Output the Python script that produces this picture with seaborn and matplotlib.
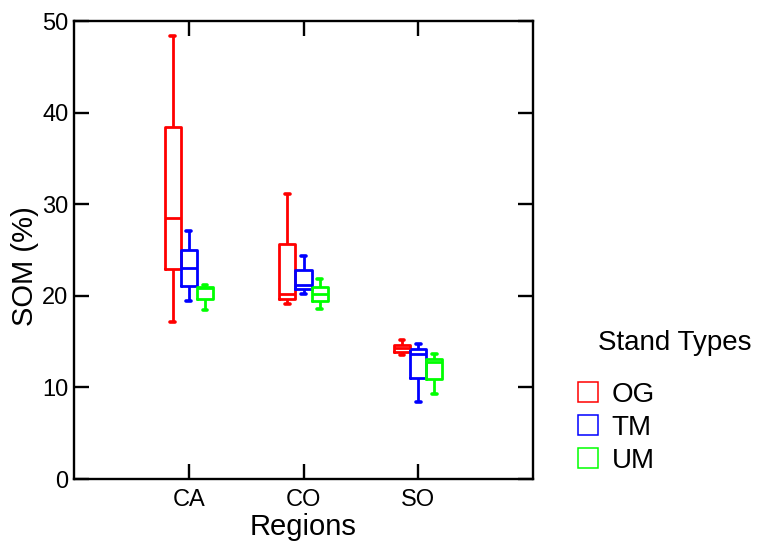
import numpy as np
import pandas as pd
import seaborn as sns
import matplotlib
matplotlib.use("Agg")
import matplotlib.pyplot as plt
from matplotlib.lines import Line2D

# ---- data (five-number summaries) ----
regions = ["CA", "CO", "SO"]
stand_types = ["OG", "TM", "UM"]
# each: [min, q1, median, q3, max]
CA_OG = [17.1, 22.9, 28.5, 38.4, 48.4]
CA_TM = [19.4, 21.1, 23.0, 25.0, 27.1]
CA_UM = [18.5, 19.7, 20.9, 21.0, 21.2]
CO_OG = [19.1, 19.65, 20.2, 25.7, 31.1]
CO_TM = [20.2, 20.7, 21.2, 22.8, 24.3]
CO_UM = [18.6, 19.4, 20.2, 21.0, 21.8]
SO_OG = [13.5, 13.9, 14.25, 14.6, 15.2]
SO_TM = [8.45, 11.0, 13.65, 14.15, 14.7]
SO_UM = [9.25, 10.9, 12.75, 13.15, 13.7]
yticks = [0, 10, 20, 30, 40, 50]
palette = {"OG": "#ff0000", "TM": "#0000ff", "UM": "#00ff00"}

groups = {
    ("CA", "OG"): CA_OG, ("CA", "TM"): CA_TM, ("CA", "UM"): CA_UM,
    ("CO", "OG"): CO_OG, ("CO", "TM"): CO_TM, ("CO", "UM"): CO_UM,
    ("SO", "OG"): SO_OG, ("SO", "TM"): SO_TM, ("SO", "UM"): SO_UM,
}
rows = []
for (r, s), vals in groups.items():
    for v in vals:
        rows.append({"Regions": r, "Stand Types": s, "SOM": v})
df = pd.DataFrame(rows)

sns.set_style("white")
plt.rcParams["font.family"] = ["Liberation Sans", "DejaVu Sans"]
plt.rcParams["text.color"] = "black"
plt.rcParams["axes.labelcolor"] = "black"

fig = plt.figure(figsize=(7.58, 5.44), dpi=100)
ax = fig.add_axes([74 / 758, 1 - 479 / 544, (533 - 74) / 758, (479 - 21) / 544])

sns.boxplot(data=df, x="Regions", y="SOM", hue="Stand Types",
            order=regions, hue_order=stand_types, palette=palette,
            fill=False, width=0.42, whis=(0, 100), linewidth=2.0,
            showfliers=False, legend=False, ax=ax)

# shorten whisker caps
for ln in ax.lines:
    xd = np.asarray(ln.get_xdata(), dtype=float)
    yd = np.asarray(ln.get_ydata(), dtype=float)
    if len(xd) == 2 and np.isclose(yd[0], yd[1]):
        w = abs(xd[1] - xd[0])
        if 0.05 < w < 0.1:
            c = xd.mean()
            ln.set_xdata([c - 0.02, c + 0.02])
            ln.set_solid_capstyle("round")
            ln.set_linewidth(2.6)

ax.set_xlim(-1, 3)
ax.set_ylim(0, 50)
ax.set_yticks(yticks)
ax.set_xticks(range(len(regions)))
ax.set_xticklabels(regions)

for sp in ax.spines.values():
    sp.set_visible(True)
    sp.set_color("black")
    sp.set_linewidth(1.7)

ax.tick_params(axis="both", direction="in", length=11, width=1.7,
               colors="black", labelsize=17)
ax.tick_params(axis="x", top=True, bottom=True, pad=7)
ax.tick_params(axis="y", left=True, right=True, pad=4)

ax.set_xlabel("Regions", fontsize=21, labelpad=1.5, color="black")
ax.set_ylabel("SOM (%)", fontsize=21, color="black")
ax.yaxis.set_label_coords((39 - 74) / 459, (479 - 266) / 458)

handles = [Line2D([], [], linestyle="", marker="s", markersize=14,
                  markerfacecolor="none", markeredgecolor=palette[s],
                  markeredgewidth=1.1) for s in stand_types]
leg = fig.legend(handles, stand_types,
                 loc="upper left", bbox_to_anchor=(574 / 758, 1 - 382 / 544),
                 frameon=False, fontsize=20, labelcolor="black",
                 handletextpad=0.35, labelspacing=0.25, handlelength=1.0,
                 borderaxespad=0, borderpad=0)
fig.text(598 / 758, 1 - 343 / 544, "Stand Types", fontsize=20,
         ha="left", va="center", color="black")

fig.savefig("out.png", dpi=100)
